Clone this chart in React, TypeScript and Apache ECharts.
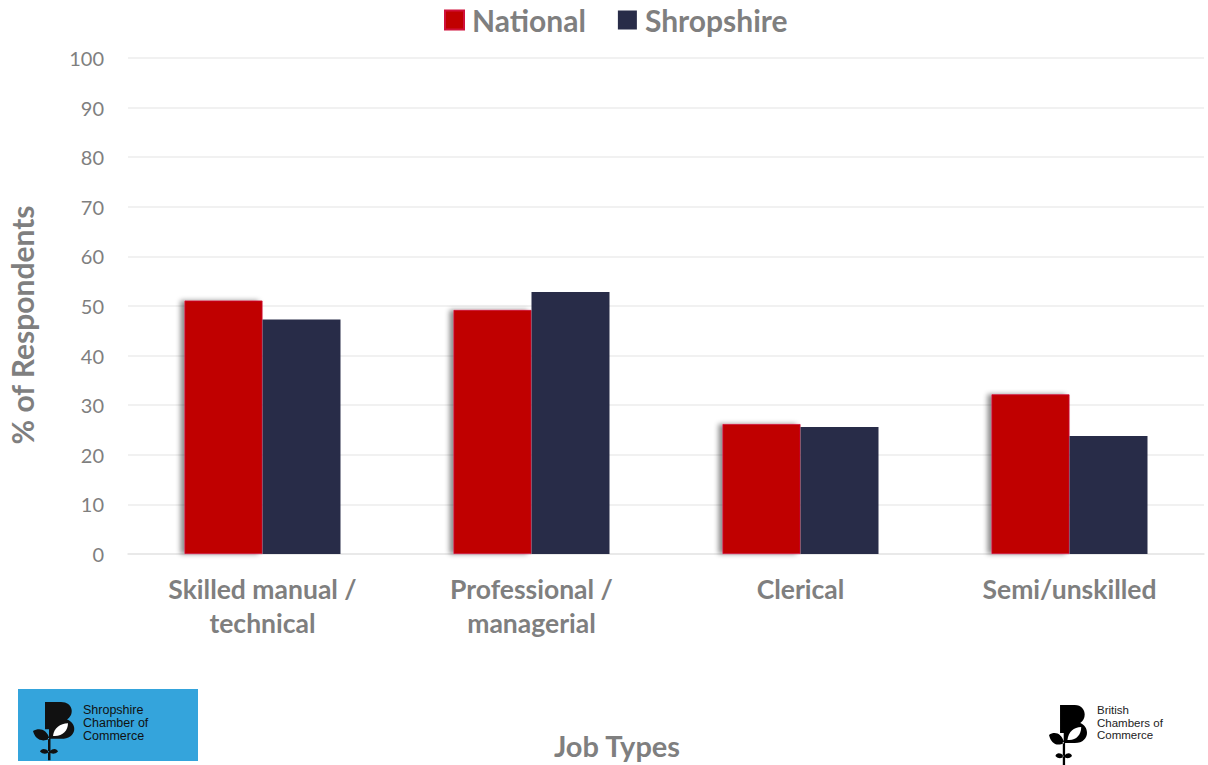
import React, { useEffect, useRef } from "react";
import * as echarts from "echarts";

const categories = ["Skilled manual /\ntechnical", "Professional /\nmanagerial", "Clerical", "Semi/unskilled"];
const nationalValues = [51.1, 49.2, 26.2, 32.2];
const shropshireValues = [47.3, 52.8, 25.6, 23.8];
const seriesNames = ["National", "Shropshire"];

const B_LOGO =
  "M12 0 L28 0 C40 0 42 13 34 18 C45 22 44 38 28 38 L16 38 L16 28 L12 28 Z " +
  "M16.5 38 C14 28 6 26 0 30 C2 38 8 42 16.5 38 Z " +
  "M15 37 L17.5 37 L17.5 60 L15 60 Z " +
  "M16 51 C12 47 8 48 7 51 C10 54 14 54 16 51 Z " +
  "M16.5 51 C20 47 24 48 25 51 C22 54 18 54 16.5 51 Z";
const LEAF = "M20 35 C21 27 27 22 35 22 C35 30 29 36 20 35 Z";

let registered = false;
function registerShapes() {
  if (registered) return;
  registered = true;
  echarts.graphic.registerShape("blogo", echarts.graphic.extendPath(B_LOGO, {}));
  echarts.graphic.registerShape("bleaf", echarts.graphic.extendPath(LEAF, {}));
}

export default function App() {
  const ref = useRef<HTMLDivElement>(null);
  useEffect(() => {
    registerShapes();
    const chart = echarts.init(ref.current!, undefined, { renderer: "svg" });
    const font = "Lato, 'Open Sans', sans-serif";
    const logoFont = "'Liberation Sans', Arial, sans-serif";
    const gray = "#7f7f7f";
    chart.setOption({
      animation: false,
      backgroundColor: "#ffffff",
      textStyle: { fontFamily: font },
      legend: {
        top: 0,
        left: 439,
        itemWidth: 19,
        itemHeight: 19,
        itemGap: 32,
        icon: "rect",
        textStyle: { fontSize: 30, fontWeight: "bold", color: gray, fontFamily: font, padding: [0, 0, 0, 3] },
        data: seriesNames,
      },
      grid: { left: 128, right: 4, top: 58, bottom: 211, containLabel: false },
      xAxis: {
        type: "category",
        data: categories,
        axisLine: { show: true, lineStyle: { color: "#e6e6e6", width: 1.5 } },
        axisTick: { show: false },
        axisLabel: {
          fontSize: 26.5,
          fontWeight: "bold",
          color: gray,
          lineHeight: 34,
          margin: 18,
          fontFamily: font,
        },
      },
      yAxis: {
        type: "value",
        min: 0,
        max: 100,
        interval: 10,
        axisLine: { show: false },
        axisTick: { show: false },
        axisLabel: { fontSize: 20, color: gray, margin: 24, fontFamily: font },
        splitLine: { lineStyle: { color: "#ececec", width: 1.5 } },
      },
      series: [
        {
          name: seriesNames[0],
          type: "bar",
          data: nationalValues,
          barWidth: 78,
          barGap: "0%",
          itemStyle: {
            color: "#c00000",
            borderColor: "#d0103a",
            borderWidth: 0.8,
            shadowBlur: 5,
            shadowOffsetX: -4,
            shadowOffsetY: 0,
            shadowColor: "rgba(0,0,0,0.45)",
          },
        },
        {
          name: seriesNames[1],
          type: "bar",
          data: shropshireValues,
          barWidth: 78,
          barGap: "0%",
          itemStyle: { color: "#282c48" },
        },
      ],
      graphic: [
        {
          type: "text",
          x: 22,
          y: 325,
          rotation: Math.PI / 2,
          style: {
            text: "% of Respondents",
            fontSize: 30,
            fontWeight: "bold",
            fill: gray,
            fontFamily: font,
            align: "center",
            verticalAlign: "middle",
          },
        },
        {
          type: "text",
          x: 617,
          y: 745,
          style: {
            text: "Job Types",
            fontSize: 29,
            fontWeight: "bold",
            fill: gray,
            fontFamily: font,
            align: "center",
            verticalAlign: "middle",
          },
        },
        { type: "rect", shape: { x: 18, y: 689, width: 180, height: 72 }, style: { fill: "#34a4dc" } },
        { type: "blogo", x: 33, y: 702, scaleX: 1.0, scaleY: 0.97, style: { fill: "#111111" } },
        { type: "bleaf", x: 33, y: 702, scaleX: 1.0, scaleY: 0.97, style: { fill: "#ffffff" } },
        {
          type: "text",
          x: 83,
          y: 703,
          style: {
            text: "Shropshire\nChamber of\nCommerce",
            fontSize: 12.5,
            lineHeight: 13,
            fill: "#111111",
            fontFamily: logoFont,
          },
        },
        { type: "blogo", x: 1049, y: 705, scaleX: 0.92, scaleY: 1.0, style: { fill: "#000000" } },
        { type: "bleaf", x: 1049, y: 705, scaleX: 0.92, scaleY: 1.0, style: { fill: "#ffffff" } },
        {
          type: "text",
          x: 1097,
          y: 704,
          style: {
            text: "British\nChambers of\nCommerce",
            fontSize: 11.5,
            lineHeight: 12.5,
            fill: "#222222",
            fontFamily: logoFont,
          },
        },
      ],
    });
    return () => chart.dispose();
  }, []);
  return (
    <div
      ref={ref}
      style={{ position: "fixed", left: 0, top: 0, width: 1208, height: 765, background: "#fff" }}
    />
  );
}
